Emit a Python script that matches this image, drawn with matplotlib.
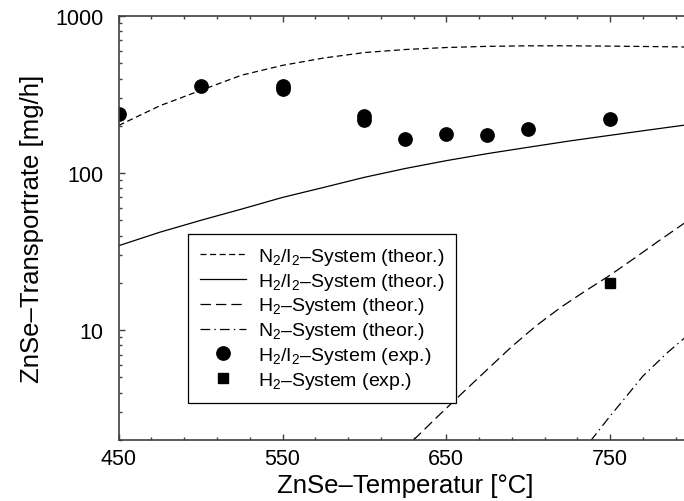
import numpy as np
import matplotlib
matplotlib.use('Agg')
import matplotlib.pyplot as plt
from matplotlib.ticker import FixedLocator, NullFormatter, LogLocator
from matplotlib.legend_handler import HandlerLine2D

plt.rcParams['font.family'] = ['Liberation Sans', 'DejaVu Sans']
plt.rcParams['mathtext.fontset'] = 'custom'
plt.rcParams['mathtext.rm'] = 'Liberation Sans'
plt.rcParams['mathtext.it'] = 'Liberation Sans:italic'
plt.rcParams['lines.scale_dashes'] = False

# theoretical curves
t_theo = [450, 475, 500, 525, 550, 575, 600, 625, 650, 675, 700, 725, 750, 775, 800]
n2i2_theo = [201, 268, 336, 420, 485, 540, 585, 612, 630, 641, 646, 646, 643, 639, 634]
h2i2_theo = [34.5, 42, 50, 59, 70, 81, 94, 107, 120, 133, 146, 160, 174, 189, 205]
t_h2 = [630, 645, 660, 675, 690, 705, 720, 735, 750, 765, 780, 800]
h2_theo = [2.0, 2.84, 4.0, 5.62, 7.87, 10.7, 14.0, 17.8, 22.4, 28.8, 37.2, 51.9]
t_n2 = [738, 750, 760, 770, 785, 800]
n2_theo = [1.97, 2.84, 3.8, 5.1, 7.2, 9.8]

# measured
t_exp = [450, 500, 550, 550, 600, 600, 625, 650, 675, 700, 750]
h2i2_exp = [239, 358, 345, 360, 218, 231, 166, 177, 175, 190, 222]
t_h2_exp = [750]
h2_exp = [20]


class RightMarker(HandlerLine2D):
    # marker at the right end of the handle, like the original
    def get_xdata(self, legend, xdescent, ydescent, width, height, fontsize):
        xd, xm = super().get_xdata(legend, xdescent, ydescent, width, height, fontsize)
        return xd, np.array([width - xdescent - 0.25 * fontsize])


fig = plt.figure(figsize=(6.84, 5.02), dpi=100)
ax = fig.add_axes([118.7/684, 61/502, (692-118.7)/684, (441-17)/502])

lw = 0.9
ax.plot(t_theo, n2i2_theo, c='k', lw=lw, dashes=(4.3, 2.6), label='N$_2$/I$_2$–System (theor.)')
ax.plot(t_theo, h2i2_theo, c='k', lw=lw, label='H$_2$/I$_2$–System (theor.)')
ax.plot(t_h2, h2_theo, c='k', lw=lw, dashes=(7.5, 3.6), label='H$_2$–System (theor.)')
ax.plot(t_n2, n2_theo, c='k', lw=lw, dashes=(7, 3, 1, 3), label='N$_2$–System (theor.)')
ax.plot(t_exp, h2i2_exp, ls='none', marker='o', ms=9.6, c='k', label='H$_2$/I$_2$–System (exp.)')
ax.plot(t_h2_exp, h2_exp, ls='none', marker='s', ms=7.6, c='k', label='H$_2$–System (exp.)')

ax.set_yscale('log')
ax.set_xlim(450, 800)
ax.set_ylim(2, 1000)

ax.xaxis.set_major_locator(FixedLocator([450, 550, 650, 750]))
ax.xaxis.set_minor_locator(FixedLocator(np.arange(450, 801, 20)))
ax.yaxis.set_major_locator(FixedLocator([10, 100, 1000]))
ax.yaxis.set_minor_locator(LogLocator(base=10, subs=np.arange(2, 10)))
ax.yaxis.set_minor_formatter(NullFormatter())
ax.set_yticklabels(['10', '100', '1000'])

ax.tick_params(which='both', direction='in', top=True, right=False, colors='#404040',
               labelcolor='k', labelsize=15.5, width=1.0)
ax.tick_params(which='major', length=4.5)
ax.tick_params(which='minor', length=2.5)
ax.tick_params(axis='x', pad=6)
ax.tick_params(axis='y', pad=11)

for spi in ['bottom', 'left', 'top']:
    ax.spines[spi].set_linewidth(1.2)
    ax.spines[spi].set_color('#404040')
ax.spines['right'].set_visible(False)

ax.set_xlabel('ZnSe–Temperatur [°C]', fontsize=18.5, labelpad=3)
ax.set_ylabel('ZnSe–Transportrate [mg/h]', fontsize=18.5, labelpad=8)

handles, labels = ax.get_legend_handles_labels()
leg = ax.legend(handles, labels, loc='upper left', bbox_to_anchor=(188/684, 1-235/502),
                bbox_transform=fig.transFigure, fontsize=14, frameon=True, fancybox=False,
                edgecolor='k', framealpha=1, borderaxespad=0, borderpad=0.6,
                handlelength=2.4, handletextpad=0.6, labelspacing=0.2, numpoints=1,
                handler_map={handles[4]: RightMarker(), handles[5]: RightMarker()})
leg.get_frame().set_linewidth(0.9)

plt.savefig('out.png', dpi=100)
